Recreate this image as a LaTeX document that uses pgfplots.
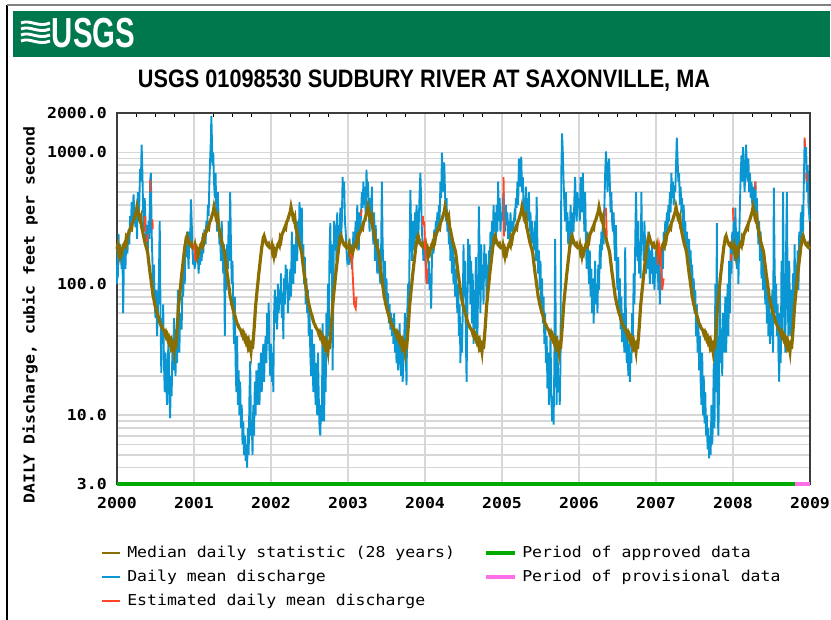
\documentclass[border=0pt]{standalone}
\usepackage{pgfplots}
\pgfplotsset{compat=1.18}
\usepackage{pgfplotstable}
\usepackage{fontspec}
\setmainfont{DejaVu Sans Mono}
\newfontfamily\tickfont[FakeStretch=1.1]{DejaVu Sans Mono}
\newfontfamily\titlefont[FakeStretch=0.86]{Liberation Sans}
\newfontfamily\logofont[FakeStretch=0.70]{Liberation Sans}
\definecolor{usgsgreen}{RGB}{0,120,78}
\definecolor{qblue}{RGB}{10,150,210}
\definecolor{qbrown}{RGB}{140,110,0}
\definecolor{qred}{RGB}{255,70,40}
\definecolor{qgreen}{RGB}{0,170,0}
\definecolor{qpink}{RGB}{255,110,230}
\definecolor{gridgray}{RGB}{215,215,215}
\definecolor{framegray}{RGB}{60,60,60}

\pgfplotstableread{
t q
0.00 185
0.01 195
0.02 175
0.03 182
0.04 165
0.05 178
0.06 172
0.07 185
0.08 190
0.09 200
0.10 205
0.11 198
0.12 222
0.13 215
0.14 235
0.15 245
0.16 250
0.17 262
0.18 270
0.19 265
0.20 292
0.21 300
0.22 310
0.23 325
0.24 340
0.25 355
0.26 385
0.27 360
0.28 340
0.29 310
0.30 300
0.31 315
0.32 270
0.33 258
0.34 240
0.35 225
0.36 210
0.37 200
0.38 190
0.39 182
0.40 170
0.41 150
0.42 135
0.43 120
0.44 110
0.45 98
0.46 90
0.47 80
0.48 76
0.49 70
0.50 67
0.51 63
0.52 60
0.53 58
0.54 55
0.55 52
0.56 50
0.57 49
0.58 47
0.59 46
0.60 45
0.61 44
0.62 42
0.63 43
0.64 40
0.65 41
0.66 38
0.67 39
0.68 36
0.69 37
0.70 34
0.71 36
0.72 33
0.73 34
0.74 31
0.75 37
0.76 32
0.77 38
0.78 45
0.79 55
0.80 68
0.81 78
0.82 90
0.83 102
0.84 118
0.85 132
0.86 150
0.87 168
0.88 190
0.89 205
0.90 225
0.91 232
0.92 220
0.93 212
0.94 205
0.95 198
0.96 195
0.97 200
0.98 190
0.99 188
1.00 185
}\mediantable

\pgfplotstableread[row sep=\\]{
x y \\
2000.00 100 \\ 2000.005 200 \\ 2000.01 110 \\ 2000.02 240 \\ 2000.03 150 \\ 2000.045 200 \\ 2000.06 130 \\ 2000.07 180 \\ 2000.08 60 \\
2000.09 150 \\ 2000.10 190 \\ 2000.11 130 \\ 2000.12 220 \\ 2000.135 170 \\ 2000.15 260 \\ 2000.16 200 \\
2000.17 330 \\ 2000.18 250 \\ 2000.19 420 \\ 2000.20 300 \\ 2000.215 480 \\ 2000.225 350 \\ 2000.24 270 \\
2000.25 380 \\ 2000.26 220 \\ 2000.27 500 \\ 2000.28 300 \\ 2000.29 420 \\ 2000.30 750 \\ 2000.31 600 \\ 2000.32 1150 \\ 2000.33 700 \\
2000.34 350 \\ 2000.35 250 \\ 2000.36 450 \\ 2000.37 300 \\ 2000.38 200 \\ 2000.39 280 \\ 2000.40 180 \\ 2000.41 300 \\
2000.42 220 \\ 2000.43 600 \\ 2000.44 700 \\ 2000.45 250 \\ 2000.46 150 \\ 2000.47 90 \\ 2000.48 140 \\ 2000.49 70 \\
2000.50 55 \\ 2000.51 90 \\ 2000.52 40 \\ 2000.53 60 \\ 2000.545 120 \\ 2000.555 300 \\ 2000.565 60 \\ 2000.575 21 \\ 2000.58 45 \\
2000.59 35 \\ 2000.60 70 \\ 2000.61 25 \\ 2000.62 15 \\ 2000.63 30 \\ 2000.64 18 \\ 2000.65 12 \\ 2000.66 25 \\
2000.67 40 \\ 2000.68 15 \\ 2000.69 9.5 \\ 2000.70 20 \\ 2000.71 14 \\ 2000.72 35 \\ 2000.73 22 \\ 2000.74 55 \\
2000.75 30 \\ 2000.76 20 \\ 2000.77 45 \\ 2000.78 25 \\ 2000.79 90 \\ 2000.80 40 \\ 2000.81 30 \\ 2000.82 60 \\
2000.84 45 \\ 2000.85 110 \\ 2000.86 80 \\ 2000.87 150 \\ 2000.88 100 \\ 2000.89 200 \\ 2000.90 160 \\ 2000.91 250 \\
2000.92 180 \\ 2000.93 130 \\ 2000.94 250 \\ 2000.95 200 \\ 2000.96 440 \\ 2000.97 300 \\ 2000.98 180 \\ 2000.99 140 \\
2001.00 170 \\ 2001.01 130 \\ 2001.02 200 \\ 2001.03 150 \\ 2001.045 190 \\ 2001.06 120 \\ 2001.07 160 \\ 2001.08 140 \\
2001.09 180 \\ 2001.10 150 \\ 2001.11 230 \\ 2001.12 170 \\ 2001.135 260 \\ 2001.15 200 \\ 2001.16 300 \\
2001.17 250 \\ 2001.18 400 \\ 2001.19 330 \\ 2001.20 600 \\ 2001.21 900 \\ 2001.22 1300 \\ 2001.225 1900 \\ 2001.23 1500 \\ 2001.24 800 \\
2001.25 1000 \\ 2001.26 600 \\ 2001.27 450 \\ 2001.28 700 \\ 2001.29 350 \\ 2001.30 250 \\ 2001.31 500 \\ 2001.32 300 \\
2001.33 200 \\ 2001.34 220 \\ 2001.35 150 \\ 2001.36 300 \\ 2001.37 180 \\ 2001.38 120 \\ 2001.39 200 \\ 2001.40 40 \\ 2001.41 150 \\
2001.42 90 \\ 2001.43 200 \\ 2001.44 130 \\ 2001.45 300 \\ 2001.46 150 \\ 2001.47 500 \\ 2001.48 200 \\ 2001.49 100 \\
2001.50 150 \\ 2001.51 60 \\ 2001.52 35 \\ 2001.53 80 \\ 2001.54 25 \\ 2001.55 15 \\ 2001.56 40 \\ 2001.57 12 \\ 2001.58 22 \\
2001.59 10 \\ 2001.60 18 \\ 2001.61 8 \\ 2001.62 12 \\ 2001.63 6 \\ 2001.64 9 \\ 2001.65 5 \\ 2001.66 7 \\
2001.67 4.5 \\ 2001.68 6 \\ 2001.69 4 \\ 2001.70 8 \\ 2001.71 5 \\ 2001.72 14 \\ 2001.73 26 \\ 2001.74 7 \\
2001.75 9 \\ 2001.76 5 \\ 2001.77 12 \\ 2001.78 7 \\ 2001.79 18 \\ 2001.80 10 \\ 2001.81 22 \\ 2001.82 12 \\
2001.84 25 \\ 2001.85 12 \\ 2001.86 20 \\ 2001.87 30 \\ 2001.88 15 \\ 2001.89 25 \\ 2001.90 35 \\ 2001.91 18 \\
2001.92 30 \\ 2001.93 40 \\ 2001.94 25 \\ 2001.95 60 \\ 2001.96 35 \\ 2001.97 72 \\ 2001.98 30 \\ 2001.99 20 \\
2002.00 35 \\ 2002.01 18 \\ 2002.02 30 \\ 2002.03 15 \\ 2002.04 60 \\ 2002.05 90 \\ 2002.06 50 \\ 2002.07 80 \\ 2002.08 45 \\
2002.09 100 \\ 2002.10 60 \\ 2002.11 90 \\ 2002.12 70 \\ 2002.13 120 \\ 2002.14 55 \\ 2002.15 85 \\ 2002.16 38 \\
2002.17 110 \\ 2002.18 70 \\ 2002.19 140 \\ 2002.20 90 \\ 2002.21 130 \\ 2002.22 60 \\ 2002.23 100 \\ 2002.24 75 \\
2002.25 130 \\ 2002.26 80 \\ 2002.27 250 \\ 2002.28 150 \\ 2002.29 100 \\ 2002.30 200 \\ 2002.31 120 \\ 2002.32 170 \\
2002.33 260 \\ 2002.34 150 \\ 2002.35 300 \\ 2002.36 200 \\ 2002.37 420 \\ 2002.38 250 \\ 2002.39 180 \\ 2002.40 380 \\ 2002.41 140 \\
2002.42 200 \\ 2002.43 100 \\ 2002.44 160 \\ 2002.45 70 \\ 2002.46 110 \\ 2002.47 60 \\ 2002.48 90 \\ 2002.49 40 \\
2002.50 70 \\ 2002.51 30 \\ 2002.52 20 \\ 2002.53 45 \\ 2002.54 25 \\ 2002.55 15 \\ 2002.56 35 \\ 2002.57 18 \\ 2002.58 12 \\
2002.59 25 \\ 2002.60 10 \\ 2002.61 30 \\ 2002.62 14 \\ 2002.63 8 \\ 2002.64 7 \\ 2002.65 12 \\ 2002.66 9 \\
2002.67 50 \\ 2002.68 12 \\ 2002.69 9 \\ 2002.70 30 \\ 2002.71 15 \\ 2002.72 60 \\ 2002.73 30 \\ 2002.74 100 \\
2002.75 40 \\ 2002.76 180 \\ 2002.77 290 \\ 2002.78 120 \\ 2002.79 200 \\ 2002.80 22 \\ 2002.81 90 \\ 2002.82 300 \\
2002.84 250 \\ 2002.85 150 \\ 2002.86 350 \\ 2002.87 180 \\ 2002.88 280 \\ 2002.89 200 \\ 2002.90 380 \\ 2002.91 220 \\
2002.92 300 \\ 2002.93 650 \\ 2002.94 450 \\ 2002.95 600 \\ 2002.96 300 \\ 2002.97 250 \\ 2002.98 180 \\ 2002.99 150 \\
2003.00 160 \\ 2003.01 140 \\ 2003.02 220 \\ 2003.03 170 \\ 2003.04 200 \\ 2003.05 130 \\ 2003.06 170 \\ 2003.07 250 \\ 2003.08 200 \\
2003.09 230 \\ 2003.10 300 \\ 2003.11 200 \\ 2003.12 400 \\ 2003.13 260 \\ 2003.14 180 \\ 2003.15 350 \\ 2003.16 250 \\
2003.17 350 \\ 2003.18 500 \\ 2003.19 380 \\ 2003.20 600 \\ 2003.21 400 \\ 2003.22 550 \\ 2003.23 300 \\ 2003.24 740 \\
2003.25 500 \\ 2003.26 600 \\ 2003.27 350 \\ 2003.28 250 \\ 2003.29 450 \\ 2003.30 300 \\ 2003.31 550 \\ 2003.32 250 \\
2003.33 200 \\ 2003.34 350 \\ 2003.35 150 \\ 2003.36 280 \\ 2003.37 170 \\ 2003.38 120 \\ 2003.39 220 \\ 2003.40 140 \\
2003.42 100 \\ 2003.43 180 \\ 2003.44 600 \\ 2003.45 200 \\ 2003.46 130 \\ 2003.47 90 \\ 2003.48 150 \\ 2003.49 70 \\
2003.50 110 \\ 2003.51 60 \\ 2003.52 85 \\ 2003.53 50 \\ 2003.54 70 \\ 2003.55 45 \\ 2003.56 60 \\ 2003.57 40 \\ 2003.58 55 \\
2003.59 35 \\ 2003.60 60 \\ 2003.61 30 \\ 2003.62 45 \\ 2003.63 25 \\ 2003.64 40 \\ 2003.65 22 \\ 2003.66 30 \\
2003.67 50 \\ 2003.68 25 \\ 2003.69 20 \\ 2003.70 35 \\ 2003.71 18 \\ 2003.72 25 \\ 2003.73 40 \\ 2003.74 60 \\
2003.75 30 \\ 2003.76 17 \\ 2003.77 60 \\ 2003.78 100 \\ 2003.79 60 \\ 2003.80 200 \\ 2003.81 520 \\ 2003.82 250 \\
2003.83 150 \\ 2003.84 300 \\ 2003.85 200 \\ 2003.86 180 \\ 2003.87 350 \\ 2003.88 220 \\ 2003.89 400 \\ 2003.90 300 \\ 2003.91 200 \\
2003.92 300 \\ 2003.93 500 \\ 2003.94 700 \\ 2003.95 450 \\ 2003.96 250 \\ 2003.97 200 \\ 2003.98 150 \\ 2003.99 170 \\
2004.00 180 \\ 2004.01 140 \\ 2004.02 110 \\ 2004.03 130 \\ 2004.04 100 \\ 2004.05 150 \\ 2004.06 90 \\ 2004.07 120 \\ 2004.08 65 \\
2004.09 150 \\ 2004.10 220 \\ 2004.11 170 \\ 2004.12 260 \\ 2004.13 200 \\ 2004.14 300 \\ 2004.15 230 \\ 2004.16 350 \\
2004.17 250 \\ 2004.18 400 \\ 2004.19 300 \\ 2004.20 600 \\ 2004.21 450 \\ 2004.22 1000 \\ 2004.23 700 \\ 2004.24 500 \\
2004.25 840 \\ 2004.26 500 \\ 2004.27 300 \\ 2004.28 450 \\ 2004.29 250 \\ 2004.30 350 \\ 2004.31 200 \\ 2004.32 300 \\
2004.33 150 \\ 2004.34 250 \\ 2004.35 120 \\ 2004.36 200 \\ 2004.37 100 \\ 2004.38 160 \\ 2004.39 80 \\ 2004.40 130 \\
2004.42 60 \\ 2004.43 100 \\ 2004.44 40 \\ 2004.45 70 \\ 2004.46 25 \\ 2004.47 50 \\ 2004.48 30 \\ 2004.49 60 \\
2004.50 200 \\ 2004.51 80 \\ 2004.52 150 \\ 2004.53 40 \\ 2004.54 18 \\ 2004.55 60 \\ 2004.56 220 \\ 2004.57 100 \\ 2004.58 200 \\
2004.59 70 \\ 2004.60 150 \\ 2004.61 50 \\ 2004.62 120 \\ 2004.63 35 \\ 2004.64 90 \\ 2004.65 45 \\ 2004.66 160 \\
2004.67 60 \\ 2004.68 35 \\ 2004.69 100 \\ 2004.70 390 \\ 2004.71 150 \\ 2004.72 60 \\ 2004.73 200 \\ 2004.74 90 \\
2004.75 140 \\ 2004.76 70 \\ 2004.77 200 \\ 2004.78 110 \\ 2004.79 170 \\ 2004.80 80 \\ 2004.81 140 \\ 2004.82 100 \\
2004.83 180 \\ 2004.84 120 \\ 2004.85 250 \\ 2004.86 150 \\ 2004.87 300 \\ 2004.88 200 \\ 2004.89 400 \\ 2004.90 250 \\ 2004.91 350 \\
2004.92 200 \\ 2004.93 400 \\ 2004.94 250 \\ 2004.95 600 \\ 2004.96 300 \\ 2004.97 450 \\ 2004.98 250 \\ 2004.99 350 \\
2005.00 300 \\ 2005.01 400 \\ 2005.02 500 \\ 2005.03 350 \\ 2005.04 250 \\ 2005.05 400 \\ 2005.06 280 \\ 2005.07 350 \\ 2005.08 220 \\
2005.09 300 \\ 2005.10 200 \\ 2005.11 350 \\ 2005.12 250 \\ 2005.13 300 \\ 2005.14 220 \\ 2005.15 280 \\ 2005.16 330 \\
2005.17 300 \\ 2005.18 450 \\ 2005.19 380 \\ 2005.20 600 \\ 2005.21 400 \\ 2005.22 900 \\ 2005.23 550 \\ 2005.24 700 \\
2005.25 930 \\ 2005.26 500 \\ 2005.27 650 \\ 2005.28 380 \\ 2005.29 450 \\ 2005.30 300 \\ 2005.31 550 \\ 2005.32 350 \\
2005.33 450 \\ 2005.34 300 \\ 2005.35 500 \\ 2005.36 250 \\ 2005.37 350 \\ 2005.38 200 \\ 2005.39 300 \\ 2005.40 230 \\
2005.42 180 \\ 2005.43 300 \\ 2005.44 150 \\ 2005.45 460 \\ 2005.46 200 \\ 2005.47 120 \\ 2005.48 180 \\ 2005.49 90 \\
2005.50 150 \\ 2005.51 70 \\ 2005.52 110 \\ 2005.53 50 \\ 2005.54 80 \\ 2005.55 35 \\ 2005.56 60 \\ 2005.57 25 \\ 2005.58 40 \\
2005.59 16 \\ 2005.60 30 \\ 2005.61 12 \\ 2005.62 20 \\ 2005.63 40 \\ 2005.64 15 \\ 2005.65 9 \\ 2005.66 14 \\
2005.67 8.5 \\ 2005.68 25 \\ 2005.69 220 \\ 2005.70 30 \\ 2005.71 12 \\ 2005.72 40 \\ 2005.73 15 \\ 2005.74 20 \\
2005.75 12 \\ 2005.76 25 \\ 2005.77 700 \\ 2005.78 1400 \\ 2005.79 1000 \\ 2005.80 600 \\ 2005.81 400 \\ 2005.82 300 \\
2005.83 500 \\ 2005.84 250 \\ 2005.85 350 \\ 2005.86 200 \\ 2005.87 300 \\ 2005.88 180 \\ 2005.89 400 \\ 2005.90 250 \\ 2005.91 200 \\
2005.92 350 \\ 2005.93 250 \\ 2005.94 450 \\ 2005.95 650 \\ 2005.96 350 \\ 2005.97 300 \\ 2005.98 500 \\ 2005.99 400 \\
2006.00 450 \\ 2006.01 300 \\ 2006.02 650 \\ 2006.03 500 \\ 2006.04 350 \\ 2006.05 700 \\ 2006.06 400 \\ 2006.07 250 \\ 2006.08 500 \\
2006.09 200 \\ 2006.10 130 \\ 2006.11 250 \\ 2006.12 150 \\ 2006.13 100 \\ 2006.14 180 \\ 2006.15 80 \\ 2006.16 130 \\
2006.17 60 \\ 2006.18 110 \\ 2006.19 50 \\ 2006.20 90 \\ 2006.21 150 \\ 2006.22 70 \\ 2006.23 100 \\ 2006.24 60 \\
2006.25 140 \\ 2006.26 90 \\ 2006.27 200 \\ 2006.28 130 \\ 2006.29 250 \\ 2006.30 180 \\ 2006.31 300 \\ 2006.32 200 \\
2006.33 400 \\ 2006.34 700 \\ 2006.35 1020 \\ 2006.36 800 \\ 2006.37 500 \\ 2006.38 650 \\ 2006.39 900 \\ 2006.40 600 \\ 2006.41 350 \\
2006.42 500 \\ 2006.43 300 \\ 2006.44 250 \\ 2006.45 350 \\ 2006.46 200 \\ 2006.47 150 \\ 2006.48 280 \\ 2006.49 120 \\
2006.50 90 \\ 2006.51 160 \\ 2006.52 60 \\ 2006.53 110 \\ 2006.54 45 \\ 2006.55 80 \\ 2006.56 36 \\ 2006.57 60 \\ 2006.58 40 \\
2006.59 30 \\ 2006.60 190 \\ 2006.61 50 \\ 2006.62 25 \\ 2006.63 40 \\ 2006.64 20 \\ 2006.65 35 \\ 2006.66 18 \\
2006.67 30 \\ 2006.68 25 \\ 2006.69 60 \\ 2006.70 40 \\ 2006.71 120 \\ 2006.72 70 \\ 2006.73 200 \\ 2006.74 500 \\
2006.75 250 \\ 2006.76 150 \\ 2006.77 300 \\ 2006.78 120 \\ 2006.79 200 \\ 2006.80 110 \\ 2006.81 500 \\ 2006.82 200 \\
2006.83 250 \\ 2006.84 150 \\ 2006.85 300 \\ 2006.86 180 \\ 2006.87 120 \\ 2006.88 200 \\ 2006.89 130 \\ 2006.90 250 \\ 2006.91 160 \\
2006.92 100 \\ 2006.93 180 \\ 2006.94 120 \\ 2006.95 200 \\ 2006.96 100 \\ 2006.97 160 \\ 2006.98 90 \\ 2006.99 140 \\
2007.00 180 \\ 2007.01 120 \\ 2007.02 200 \\ 2007.03 90 \\ 2007.04 150 \\ 2007.05 70 \\ 2007.06 120 \\ 2007.07 100 \\ 2007.08 200 \\
2007.09 130 \\ 2007.10 250 \\ 2007.11 180 \\ 2007.12 300 \\ 2007.13 200 \\ 2007.14 350 \\ 2007.15 250 \\ 2007.16 400 \\
2007.17 300 \\ 2007.18 500 \\ 2007.19 350 \\ 2007.20 700 \\ 2007.21 450 \\ 2007.22 600 \\ 2007.23 400 \\ 2007.24 550 \\
2007.25 500 \\ 2007.26 800 \\ 2007.27 1300 \\ 2007.28 900 \\ 2007.29 600 \\ 2007.30 700 \\ 2007.31 400 \\ 2007.32 550 \\
2007.33 350 \\ 2007.34 450 \\ 2007.35 250 \\ 2007.36 400 \\ 2007.37 200 \\ 2007.38 300 \\ 2007.39 180 \\ 2007.40 250 \\
2007.42 150 \\ 2007.43 220 \\ 2007.44 120 \\ 2007.45 180 \\ 2007.46 90 \\ 2007.47 140 \\ 2007.48 70 \\ 2007.49 110 \\
2007.50 60 \\ 2007.51 90 \\ 2007.52 40 \\ 2007.53 70 \\ 2007.54 30 \\ 2007.55 55 \\ 2007.56 22 \\ 2007.57 40 \\ 2007.58 18 \\
2007.59 12 \\ 2007.60 30 \\ 2007.61 10 \\ 2007.62 20 \\ 2007.63 8.7 \\ 2007.64 15 \\ 2007.65 7 \\ 2007.66 10 \\
2007.67 5.5 \\ 2007.68 8 \\ 2007.69 4.7 \\ 2007.70 7 \\ 2007.71 5 \\ 2007.72 12 \\ 2007.73 6 \\ 2007.74 9 \\
2007.75 25 \\ 2007.76 8 \\ 2007.77 100 \\ 2007.78 15 \\ 2007.79 290 \\ 2007.80 12 \\ 2007.81 7 \\ 2007.82 18 \\
2007.83 90 \\ 2007.84 25 \\ 2007.85 45 \\ 2007.86 20 \\ 2007.87 60 \\ 2007.88 30 \\ 2007.89 35 \\ 2007.90 80 \\ 2007.91 30 \\
2007.92 50 \\ 2007.93 100 \\ 2007.94 40 \\ 2007.95 150 \\ 2007.96 60 \\ 2007.97 200 \\ 2007.98 120 \\ 2007.99 250 \\
2008.00 180 \\ 2008.01 300 \\ 2008.02 150 \\ 2008.03 380 \\ 2008.04 220 \\ 2008.05 130 \\ 2008.06 250 \\ 2008.07 100 \\ 2008.08 200 \\
2008.09 400 \\ 2008.10 700 \\ 2008.11 950 \\ 2008.12 600 \\ 2008.13 1100 \\ 2008.14 800 \\ 2008.15 500 \\ 2008.16 700 \\
2008.17 1150 \\ 2008.18 800 \\ 2008.19 600 \\ 2008.20 900 \\ 2008.21 500 \\ 2008.22 700 \\ 2008.23 450 \\ 2008.24 600 \\
2008.25 400 \\ 2008.26 550 \\ 2008.27 350 \\ 2008.28 450 \\ 2008.29 600 \\ 2008.30 350 \\ 2008.31 450 \\ 2008.32 300 \\
2008.33 200 \\ 2008.34 300 \\ 2008.35 150 \\ 2008.36 250 \\ 2008.37 110 \\ 2008.38 180 \\ 2008.39 90 \\ 2008.40 150 \\
2008.42 70 \\ 2008.43 130 \\ 2008.44 50 \\ 2008.45 90 \\ 2008.46 40 \\ 2008.47 70 \\ 2008.48 35 \\ 2008.49 60 \\
2008.50 40 \\ 2008.51 90 \\ 2008.52 30 \\ 2008.53 540 \\ 2008.54 150 \\ 2008.55 60 \\ 2008.56 100 \\ 2008.57 40 \\ 2008.58 70 \\
2008.59 30 \\ 2008.60 18 \\ 2008.61 60 \\ 2008.62 25 \\ 2008.63 150 \\ 2008.64 40 \\ 2008.65 500 \\ 2008.66 100 \\
2008.67 60 \\ 2008.68 30 \\ 2008.69 200 \\ 2008.70 500 \\ 2008.71 80 \\ 2008.72 40 \\ 2008.73 150 \\ 2008.74 60 \\
2008.75 40 \\ 2008.76 90 \\ 2008.77 50 \\ 2008.78 120 \\ 2008.79 60 \\ 2008.80 200 \\ 2008.81 80 \\ 2008.82 140 \\
2008.83 100 \\ 2008.84 180 \\ 2008.85 90 \\ 2008.86 250 \\ 2008.87 150 \\ 2008.88 350 \\ 2008.89 200 \\ 2008.90 400 \\ 2008.91 250 \\
2008.92 600 \\ 2008.93 1250 \\ 2008.94 900 \\ 2008.95 1100 \\ 2008.96 500 \\ 2008.97 800 \\ 2008.98 400 \\ 2008.995 300 \\
}\bluetable

\begin{document}
\begin{tikzpicture}
\begin{scope}[x=0.75pt,y=0.75pt]
\path[use as bounding box, fill=white] (0,0) rectangle (831,620);
% page frame
\draw[black, line width=1.5pt] (7,0) -- (7,615);
\draw[gray, line width=1.5pt] (7,615) -- (831,615);
% header
\fill[usgsgreen] (13,563) rectangle (830,609);
\begin{scope}[white, line width=2.2pt]
\draw (21,597) .. controls (30,601) and (38,592) .. (50,597);
\draw (21,591) .. controls (30,595) and (38,586) .. (50,591);
\draw (21,585) .. controls (30,589) and (38,580) .. (50,585);
\draw (21,579) .. controls (30,583) and (38,574) .. (50,579);
\end{scope}
\node[white, anchor=center, inner sep=0pt] at (93.5,587)
  {\logofont\bfseries\fontsize{31.5pt}{32pt}\selectfont USGS};
% title
\node[anchor=center, inner sep=0pt] at (424,539)
  {\titlefont\bfseries\fontsize{18.9pt}{20pt}\selectfont USGS 01098530 SUDBURY RIVER AT SAXONVILLE, MA};
% y label
\node[rotate=90, anchor=center, inner sep=0pt] at (30,305)
  {\tickfont\bfseries\fontsize{11.25pt}{12pt}\selectfont DAILY Discharge, cubic feet per second};
% legend
\begin{scope}[every node/.style={anchor=west, inner sep=0pt, font=\tickfont\fontsize{11.25pt}{12pt}\selectfont}]
\draw[qbrown, line width=1.5pt] (102,67) -- (120,67);
\node at (127,67) {Median daily statistic (28 years)};
\draw[qblue, line width=1.5pt] (102,43) -- (120,43);
\node at (127,43) {Daily mean discharge};
\draw[qred, line width=1.5pt] (102,19) -- (120,19);
\node at (127,19) {Estimated daily mean discharge};
\draw[qgreen, line width=3pt] (486,67) -- (515,67);
\node at (522,67) {Period of approved data};
\draw[qpink, line width=3pt] (486,43) -- (515,43);
\node at (522,43) {Period of provisional data};
\end{scope}
\end{scope}

\begin{axis}[
  at={(87.75pt,102pt)}, anchor=south west,
  scale only axis, width=519.75pt, height=278.25pt,
  xmin=2000, xmax=2009,
  ymode=log, ymin=3, ymax=2000,
  clip=false,
  unbounded coords=jump,
  axis line style={framegray, line width=1.3pt},
  xtick={2000,2001,2002,2003,2004,2005,2006,2007,2008,2009},
  xticklabels={2000,2001,2002,2003,2004,2005,2006,2007,2008,2009},
  minor xtick={2000.25,2000.5,2000.75,2001.25,2001.5,2001.75,2002.25,2002.5,2002.75,2003.25,2003.5,2003.75,2004.25,2004.5,2004.75,2005.25,2005.5,2005.75,2006.25,2006.5,2006.75,2007.25,2007.5,2007.75,2008.25,2008.5,2008.75},
  xtick pos=upper, xticklabel pos=lower,
  major tick length=0pt, minor tick length=3pt,
  minor x tick style={black, line width=1pt},
  ytick={3,10,100,1000,2000},
  yticklabels={3.0,10.0,100.0,1000.0,2000.0},
  minor ytick={4,5,6,7,8,9,20,30,40,50,60,70,80,90,200,300,400,500,600,700,800,900},
  minor y tick style={draw=none},
  xmajorgrids, ymajorgrids, yminorgrids,
  major grid style={gridgray, line width=1.3pt},
  minor grid style={gridgray, line width=1.3pt},
  ticklabel style={font=\tickfont\bfseries\fontsize{11.25pt}{12pt}\selectfont},
  xticklabel style={anchor=north, inner sep=0pt, yshift=-9.5pt},
  yticklabel style={anchor=east, inner sep=0pt, xshift=-7.5pt},
]
\addplot[qblue, line width=1.4pt] table[x=x, y=y]{\bluetable};
\pgfplotsinvokeforeach{2000,2001,2002,2003,2004,2005,2006,2007,2008}{
  \addplot[qbrown, line width=2.4pt] table[x expr=\thisrow{t}+#1, y=q]{\mediantable};
}
\addplot[qred, line width=1.4pt] coordinates {
(2000.36,330) (2000.37,250) (2000.371,nan)
(2000.39,210) (2000.40,240) (2000.401,nan)
(2000.43,620) (2000.435,500) (2000.436,nan)
(2000.46,310) (2000.465,260) (2000.466,nan)
(2001.00,200) (2001.01,170) (2001.02,150) (2001.021,nan)
(2003.03,170) (2003.05,160) (2003.06,120) (2003.08,70) (2003.10,65) (2003.11,80) (2003.111,nan)
(2003.17,330) (2003.175,370) (2003.176,nan)
(2003.97,280) (2003.975,330) (2003.976,nan)
(2003.99,300) (2004.00,200) (2004.01,150) (2004.02,100) (2004.03,130) (2004.031,nan)
(2005.02,650) (2005.025,230) (2005.026,nan)
(2006.35,380) (2006.36,230) (2006.361,nan)
(2007.02,140) (2007.04,200) (2007.06,170) (2007.08,90) (2007.10,110) (2007.101,nan)
(2007.97,150) (2007.975,170) (2007.976,nan)
(2008.00,380) (2008.005,300) (2008.006,nan)
(2008.29,600) (2008.295,520) (2008.296,nan)
(2008.93,1300) (2008.935,1100) (2008.936,nan)
(2008.95,700) (2008.955,600)
};
\addplot[qgreen, line width=3pt] coordinates {(2000,3) (2008.8,3)};
\addplot[qpink, line width=3pt] coordinates {(2008.8,3) (2009,3)};
\end{axis}
\end{tikzpicture}
\end{document}
